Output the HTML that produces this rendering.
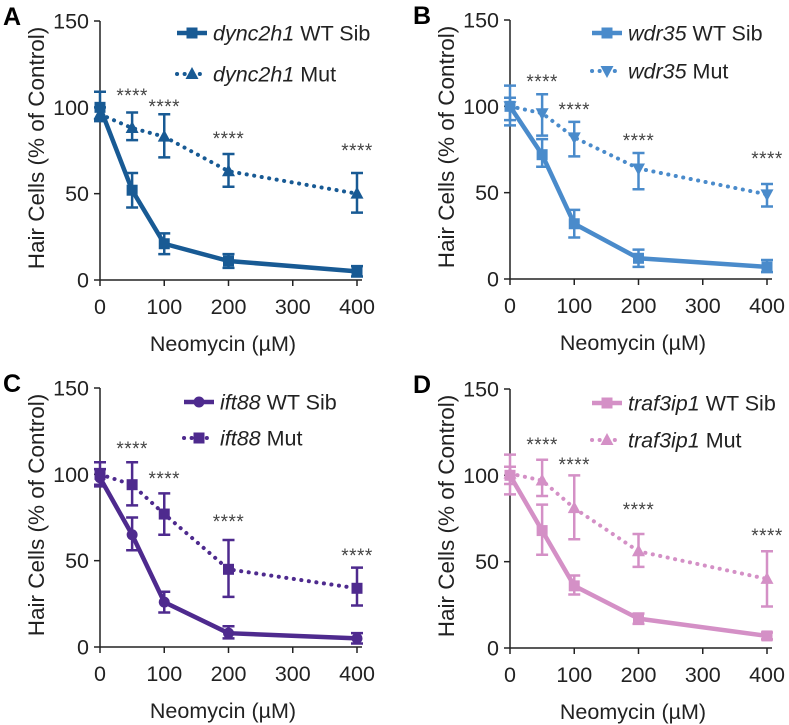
<!DOCTYPE html>
<html><head><meta charset="utf-8"><style>
html,body{margin:0;padding:0;background:#fff}
svg{display:block;font-family:"Liberation Sans",Arial,sans-serif}
</style></head><body>
<svg id="fig" width="789" height="725" viewBox="0 0 789 725"></svg>
<script>
const doses = [0, 50, 100, 200, 400];
const xTicks = [0, 100, 200, 300, 400];
const yTicks = [0, 50, 100, 150];
const panelLetters = ["A", "B", "C", "D"];
const genes = ["dync2h1", "wdr35", "ift88", "traf3ip1"];
const colors = ["#185a94", "#4a8bcb", "#4e2a8e", "#d490c6"];
const wtMarker = ["square", "square", "circle", "square"];
const mutMarker = ["triangle", "tridown", "square", "triangle"];
const wtMean = [[100,52,21,11,5],[100,72,32,12,7],[98,65,26,8,5],[100,68,36,17,7]];
const wtLo = [[92,42,15,7,2],[89,65,24,7,4],[94,56,20,5,2],[89,54,31,14,5]];
const wtHi = [[109,62,27,15,8],[112,81,40,17,11],[103,75,32,12,8],[112,83,42,20,9]];
const mutMean = [[96,88,83,63,50],[100,96,82,64,49],[100,94,77,45,34],[101,97,81,56,40]];
const mutLo = [[93,81,71,54,39],[92,83,71,52,42],[93,82,65,29,24],[95,88,63,47,24]];
const mutHi = [[100,97,96,73,62],[105,107,91,73,55],[107,107,89,62,46],[105,109,100,66,56]];
const starY = [[92,103,135,147],[78,106,137,155],[445,475,518,552],[441,461,506,532]];
const origins = [[100,280],[510,279],[100,647],[510,648]];
const legendY = [[33,74],[33,71],[402,438],[403,440]];
const legendX = [177,592,184,592];
const W = 257, H = 259;
const NS = "http://www.w3.org/2000/svg";
const svg = document.getElementById("fig");
function mk(tag, attrs, parent, text){
  const e = document.createElementNS(NS, tag);
  for (const k in attrs) e.setAttribute(k, attrs[k]);
  if (text !== undefined) e.textContent = text;
  (parent || svg).appendChild(e);
  return e;
}
function marker(g, type, x, y, c, name){
  let e;
  if (type === "square") e = mk("rect", {x:x-5.5, y:y-5.5, width:11, height:11, fill:c}, g);
  else if (type === "circle") e = mk("circle", {cx:x, cy:y, r:5.5, fill:c}, g);
  else if (type === "triangle") e = mk("polygon", {points:`${x},${y-7} ${x-6.5},${y+5} ${x+6.5},${y+5}`, fill:c}, g);
  else e = mk("polygon", {points:`${x},${y+7} ${x-6.5},${y-5} ${x+6.5},${y-5}`, fill:c}, g);
  
  
}
for (let p = 0; p < 4; p++){
  const [ox, oy] = origins[p];
  const c = colors[p];
  const sx = v => ox + v / 400 * W;
  const sy = v => oy - v / 150 * H;
  const g = mk("g", {});
  
  
  const lt = mk("text", {x: ox-97, y: oy-255, "font-size": 25, "font-weight": "bold", fill: "#000"}, g, panelLetters[p]);
  
  
  const ya = mk("line", {x1: ox, y1: sy(150), x2: ox, y2: oy, stroke: "#222", "stroke-width": 1.5}, g);
  
  
  const xa = mk("line", {x1: ox, y1: oy, x2: sx(400)+5, y2: oy, stroke: "#222", "stroke-width": 1.5}, g);
  
  
  yTicks.forEach(t => {
    mk("line", {x1: ox-6, y1: sy(t), x2: ox, y2: sy(t), stroke: "#222", "stroke-width": 1.5}, g);
    const tl = mk("text", {x: ox-11, y: sy(t)+7.5, "font-size": 21.5, "text-anchor": "end", fill: "#222"}, g, String(t));
    
    
  });
  xTicks.forEach(t => {
    mk("line", {x1: sx(t), y1: oy, x2: sx(t), y2: oy+6, stroke: "#222", "stroke-width": 1.5}, g);
    const tl = mk("text", {x: sx(t), y: oy+34, "font-size": 21.5, "text-anchor": "middle", fill: "#222"}, g, String(t));
    
    
  });
  const xt = mk("text", {x: ox+123, y: oy+71, "font-size": 21.5, "text-anchor": "middle", fill: "#222"}, g, "Neomycin (µM)");
  
  
  const yt = mk("text", {x: 0, y: 0, "font-size": 22.5, "text-anchor": "middle", fill: "#222", transform: `translate(${ox-56},${oy-132}) rotate(-90)`}, g, "Hair Cells (% of Control)");
  
  
  const mutPts = doses.map((d,i) => sx(d)+","+sy(mutMean[p][i])).join(" ");
  const ml = mk("polyline", {points: mutPts, fill: "none", stroke: c, "stroke-width": 4, "stroke-dasharray": "0.1 7.5", "stroke-linecap": "round"}, g);
  
  
  const wtPts = doses.map((d,i) => sx(d)+","+sy(wtMean[p][i])).join(" ");
  const wl = mk("polyline", {points: wtPts, fill: "none", stroke: c, "stroke-width": 4.5, "stroke-linejoin": "round"}, g);
  
  
  const eb = (x, lo, hi, name) => {
    const e = mk("path", {d: `M${x},${sy(lo)}V${sy(hi)}M${x-6},${sy(lo)}H${x+6}M${x-6},${sy(hi)}H${x+6}`, stroke: c, "stroke-width": 2.5, fill: "none"}, g);
    
    
  };
  doses.forEach((d,i) => {
    eb(sx(d), mutLo[p][i], mutHi[p][i], 'mut-error-bar');
    eb(sx(d), wtLo[p][i], wtHi[p][i], 'wt-error-bar');
    marker(g, mutMarker[p], sx(d), sy(mutMean[p][i]), c, 'mut-point');
    marker(g, wtMarker[p], sx(d), sy(wtMean[p][i]), c, 'wt-point');
  });
  doses.slice(1).forEach((d,i) => {
    const s = mk("text", {x: sx(d), y: starY[p][i]+10, "font-size": 19, "text-anchor": "middle", fill: "#444", "letter-spacing": "0.5"}, g, "****");
    
    
  });
  const lx = legendX[p];
  const [l1, l2] = legendY[p];
  const leg = mk("g", {}, g);
  
  
  mk("line", {x1: lx, y1: l1, x2: lx+30, y2: l1, stroke: c, "stroke-width": 4.5}, leg);
  marker(leg, wtMarker[p], lx+15, l1, c, 'legend-marker');
  mk("line", {x1: lx, y1: l2, x2: lx+30, y2: l2, stroke: c, "stroke-width": 4, "stroke-dasharray": "0.1 7.5", "stroke-linecap": "round"}, leg);
  marker(leg, mutMarker[p], lx+15, l2, c, 'legend-marker');
  const t1 = mk("text", {x: lx+36, y: l1+7.5, "font-size": 21.5, fill: "#222"}, leg);
  
  
  mk("tspan", {"font-style": "italic"}, t1, genes[p]);
  mk("tspan", {}, t1, " WT Sib");
  const t2 = mk("text", {x: lx+36, y: l2+7.5, "font-size": 21.5, fill: "#222"}, leg);
  
  
  mk("tspan", {"font-style": "italic"}, t2, genes[p]);
  mk("tspan", {}, t2, " Mut");
}
</script>
</body></html>
